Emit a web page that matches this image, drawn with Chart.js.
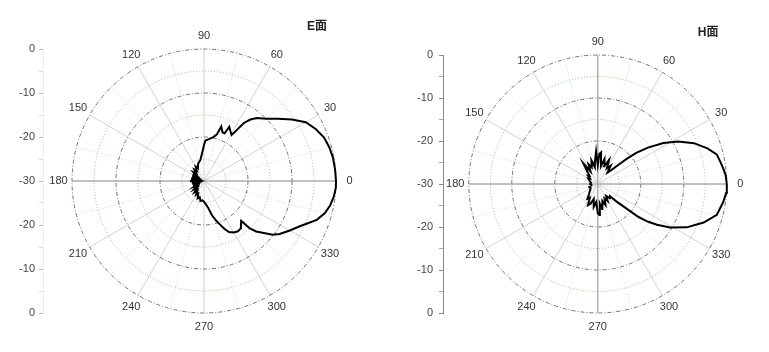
<!DOCTYPE html>
<html>
<head>
<meta charset="UTF-8">
<title>E面 / H面</title>
<style>
    body {
        margin: 0;
        padding: 0;
        background: #fff;
        font-family: 'Liberation Sans', Arial, sans-serif;
    }
    #wrap { position: relative; width: 769px; height: 352px; }
    #eBox { position: absolute; left: 0; top: 0; width: 385px; height: 352px; }
    #hBox { position: absolute; left: 385px; top: 0; width: 384px; height: 352px; }
</style>
<script src="https://cdn.jsdelivr.net/npm/chart.js@4.4.0/dist/chart.umd.min.js"></script>
</head>
<body>
<div id="wrap">
    <div id="eBox"><canvas id="eChart" width="385" height="352"></canvas></div>
    <div id="hBox"><canvas id="hChart" width="384" height="352"></canvas></div>
</div>
<script>
// angle labels round the rim (deg), rings (dB)
var angleTicks = [0, 30, 60, 90, 120, 150, 180, 210, 240, 270, 300, 330];
var ringMajor = [-20, -10, 0];
var ringMinor = [-25, -15, -5];
var dbMin = -30; // value at the centre

// E面 pattern
var eAngles = [0, 5, 10, 15, 20, 25, 30, 35, 40, 45, 50, 53, 55.5, 57.5, 59, 62, 65, 66.5, 69, 72.5, 74.5, 78, 84, 88,
    90, 92, 95, 100, 107, 110, 115, 120, 125, 130, 135, 140, 145, 150, 155, 160, 165, 170, 175, 180,
    185, 190, 195, 200, 205, 210, 215, 220, 225, 230, 235, 240, 245, 250, 255, 260, 265, 270, 275, 279,
    283, 287, 290, 293, 296, 300, 304, 308, 311, 313, 314, 316, 319, 322, 325, 330, 335, 341, 345, 349, 353, 357];
var eGain = [0, -0.1, -0.2, -0.5, -1.0, -2.0, -3.3, -5.6, -8.0, -10.0, -11.3, -12.5, -14.0, -16.5, -17.8, -17.2, -16.4, -18.2, -18.2, -17.0, -19.0, -19.8, -20.5, -20.8,
    -21.8, -22.9, -24.0, -25.2, -25.7, -26.0, -26.8, -26.2, -27.2, -26.6, -27.5, -26.9, -28.3, -27.0, -28.6, -27.1, -28.8, -27.0, -28.7, -26.8,
    -28.5, -27.2, -28.8, -27.3, -28.4, -27.4, -28.2, -27.1, -27.9, -26.7, -27.4, -26.4, -26.9, -25.8, -26.2, -25.4, -25.6, -25.3, -24.6, -23.8,
    -22.0, -20.6, -19.5, -18.2, -17.1, -16.5, -16.2, -16.4, -17.2, -17.6, -15.0, -13.5, -12.0, -10.2, -9.0, -7.5, -5.8, -2.9, -1.6, -0.8, -0.3, 0];

// H面 pattern
var hAngles = [0, 4, 7, 10, 14, 18, 23, 28, 32, 36, 39, 41, 43, 46, 50, 55, 60, 65, 70, 75, 80, 84, 87, 90, 93, 97,
    100, 105, 110, 115, 120, 125, 130, 135, 140, 145, 150, 160, 170, 180, 190, 200, 210, 220, 230, 235, 240, 245,
    250, 255, 260, 265, 270, 273, 276, 280, 285, 290, 295, 300, 305, 310, 315, 317, 319, 321, 323, 325.5, 329, 334,
    340, 345.5, 352, 356];
var hGain = [0, -0.2, -0.6, -1.0, -1.5, -3.2, -5.7, -8.9, -12.0, -15.6, -18.5, -21.0, -23.5, -25.5, -26.5, -24.8, -25.8, -23.8, -25.6, -24.0, -25.8, -22.6, -23.0, -25.6, -22.4, -24.6,
    -26.0, -24.3, -25.9, -24.9, -26.6, -24.1, -26.2, -27.3, -27.0, -27.8, -27.4, -28.0, -28.4, -28.2, -28.5, -27.9, -28.1, -27.6, -26.8, -25.8, -26.3, -24.6,
    -25.2, -26.4, -24.6, -25.8, -23.2, -22.8, -25.4, -24.1, -25.9, -24.8, -26.3, -25.4, -26.6, -25.7, -26.0, -24.0, -21.8, -17.8, -15.5, -13.3, -10.4, -7.0,
    -3.8, -1.4, -0.5, -0.1];

Chart.defaults.font.family = "'Liberation Sans', Arial, sans-serif";

function toXY(angles, gains) {
    var pts = [];
    for (var i = 0; i < angles.length; i++) {
        var r = gains[i] - dbMin;
        var a = angles[i] * Math.PI / 180;
        pts.push({ x: r * Math.cos(a), y: r * Math.sin(a) });
    }
    pts.push(pts[0]); // close the loop
    return pts;
}

// polar grid, rim labels and title drawn on the x/y scales
var polarGrid = {
    id: 'polarGrid',
    beforeDatasetsDraw: function (chart, args, o) {
        var ctx = chart.ctx, xs = chart.scales.x, ys = chart.scales.y;
        var cx = xs.getPixelForValue(0), cy = ys.getPixelForValue(0);
        var k = xs.getPixelForValue(1) - cx;
        var R = -dbMin * k;
        ctx.save();
        ctx.lineWidth = 1;

        // spokes
        for (var a = 0; a < 360; a += 15) {
            var rad = a * Math.PI / 180;
            ctx.beginPath();
            if (a % 30 === 0) {
                ctx.setLineDash([]);
                ctx.strokeStyle = '#d2d2d2';
            } else {
                ctx.setLineDash([1, 2]);
                ctx.strokeStyle = '#cfd9cf';
            }
            ctx.moveTo(cx, cy);
            ctx.lineTo(cx + R * Math.cos(rad), cy - R * Math.sin(rad));
            ctx.stroke();
        }

        // minor rings
        ctx.setLineDash([1, 2]);
        ctx.strokeStyle = '#86c086';
        ringMinor.forEach(function (v) {
            ctx.beginPath();
            ctx.arc(cx, cy, (v - dbMin) * k, 0, Math.PI * 2);
            ctx.stroke();
        });

        // major rings
        ctx.setLineDash([4, 2, 1, 2]);
        ctx.strokeStyle = '#6e6e8c';
        ringMajor.forEach(function (v) {
            ctx.beginPath();
            ctx.arc(cx, cy, (v - dbMin) * k, 0, Math.PI * 2);
            ctx.stroke();
        });

        // 0-180 axis, and 90-270 when asked
        ctx.setLineDash([]);
        ctx.strokeStyle = '#9a9a9a';
        ctx.beginPath();
        ctx.moveTo(cx - R, cy);
        ctx.lineTo(cx + R, cy);
        if (o.vAxis) {
            ctx.moveTo(cx, cy - R);
            ctx.lineTo(cx, cy + R);
        }
        ctx.stroke();
        ctx.restore();
    },
    afterDraw: function (chart, args, o) {
        var ctx = chart.ctx, xs = chart.scales.x, ys = chart.scales.y;
        var cx = xs.getPixelForValue(0), cy = ys.getPixelForValue(0);
        var k = xs.getPixelForValue(1) - cx;
        var R = -dbMin * k + 13.5;
        ctx.save();
        ctx.fillStyle = '#333';
        ctx.font = "11px 'Liberation Sans', Arial, sans-serif";
        ctx.textAlign = 'center';
        ctx.textBaseline = 'middle';
        angleTicks.forEach(function (a) {
            var rad = a * Math.PI / 180;
            ctx.fillText(String(a), cx + R * Math.cos(rad), cy - R * Math.sin(rad));
        });
        ctx.textAlign = 'left';
        ctx.fillStyle = '#222';
        ctx.font = "bold 12px 'Liberation Sans', 'Noto Sans CJK SC', sans-serif";
        ctx.fillText(o.title, cx + o.titleDx, chart.chartArea.top - 22.5);
        ctx.restore();
    }
};

function makeChart(id, angles, gains, lay) {
    var k = (352 - lay.top - lay.bottom) / 60;
    var rightPx = lay.width - lay.right;
    return new Chart(document.getElementById(id), {
        type: 'scatter',
        data: {
            datasets: [{
                data: toXY(angles, gains),
                showLine: true,
                borderColor: '#000',
                borderWidth: 2,
                pointRadius: 0,
                tension: 0,
                fill: false
            }]
        },
        options: {
            responsive: false,
            animation: false,
            layout: { padding: { left: 0, top: lay.top, bottom: lay.bottom, right: lay.right } },
            plugins: {
                legend: { display: false },
                tooltip: { enabled: false },
                polarGrid: { title: lay.title, titleDx: lay.titleDx, vAxis: lay.vAxis }
            },
            scales: {
                x: {
                    type: 'linear',
                    display: false,
                    min: -(lay.cx - lay.axisW) / k,
                    max: (rightPx - lay.cx) / k
                },
                y: {
                    type: 'linear',
                    min: -30,
                    max: 30,
                    afterFit: function (s) { s.width = lay.axisW; },
                    ticks: {
                        stepSize: 5,
                        autoSkip: false,
                        padding: lay.tickPad,
                        color: '#444',
                        font: { size: 11 },
                        callback: function (v) {
                            return v % 10 === 0 ? String(Math.abs(v) + dbMin) : '';
                        }
                    },
                    grid: {
                        drawOnChartArea: false,
                        tickLength: 4,
                        tickColor: function (c) {
                            return c.tick && c.tick.value % 10 === 0 ? lay.tickMajor : lay.tickMinor;
                        }
                    },
                    border: { color: lay.axisColor }
                }
            }
        },
        plugins: [polarGrid]
    });
}

makeChart('eChart', eAngles, eGain, {
    width: 385, top: 49, bottom: 39, right: 25, axisW: 43, cx: 204,
    tickPad: 4, axisColor: '#ececec', tickMajor: '#b8b8b8', tickMinor: '#dcdcdc',
    title: 'E面', titleDx: 103, vAxis: false
});
makeChart('hChart', hAngles, hGain, {
    width: 384, top: 55, bottom: 39, right: 24, axisW: 58, cx: 212.8,
    tickPad: 6, axisColor: '#8a8a8a', tickMajor: '#8a8a8a', tickMinor: '#a8a8a8',
    title: 'H面', titleDx: 100, vAxis: true
});
</script>
</body>
</html>
